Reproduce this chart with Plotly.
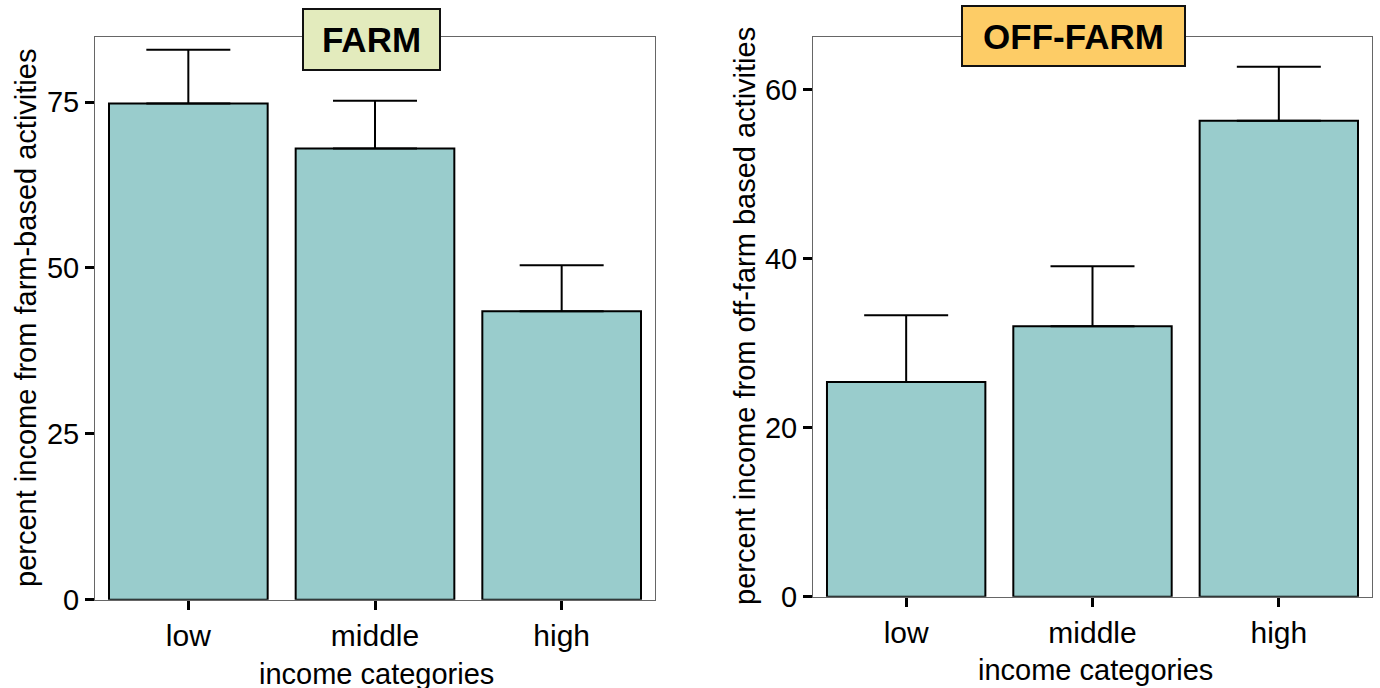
import plotly.graph_objects as go

categories = ["low", "middle", "high"]
farm_values = [74.8, 68.0, 43.5]
farm_errors = [8.1, 7.2, 6.9]
offfarm_values = [25.4, 32.0, 56.3]
offfarm_errors = [7.9, 7.1, 6.4]

FONT = "Liberation Sans, Arial, sans-serif"
BAR_COLOR = "#99cccc"
H = 688.0          # reference pixel frame used for fractions
FIG_H = 706        # rendered figure height

fig = go.Figure()
for vals, errs, xa, ya in [(farm_values, farm_errors, "x", "y"),
                           (offfarm_values, offfarm_errors, "x2", "y2")]:
    fig.add_trace(go.Bar(
        x=categories, y=vals, xaxis=xa, yaxis=ya,
        marker=dict(color=BAR_COLOR, line=dict(color="black", width=2)),
        error_y=dict(type="data", array=errs, symmetric=False, arrayminus=[0, 0, 0],
                     color="black", thickness=2, width=42),
        showlegend=False,
    ))

axis_common = dict(
    showline=True, mirror=True, linecolor="#666666", linewidth=1,
    ticks="outside", ticklen=9, tickwidth=3, tickcolor="black",
    showgrid=False, zeroline=False,
)

fig.update_layout(
    width=1380, height=FIG_H,
    margin=dict(l=0, r=0, t=0, b=0),
    paper_bgcolor="white", plot_bgcolor="white",
    bargap=0.15,
    xaxis=dict(domain=[95/1380, 655/1380], anchor="y", range=[-0.5, 2.5],
               tickfont=dict(family=FONT, size=30, color="black"), **axis_common),
    yaxis=dict(domain=[1-598/H, 1-37/H], anchor="x", range=[0, 84.8],
               tickvals=[0, 25, 50, 75],
               tickfont=dict(family=FONT, size=29, color="black"), **axis_common),
    xaxis2=dict(domain=[813/1380, 1372/1380], anchor="y2", range=[-0.5, 2.5],
                tickfont=dict(family=FONT, size=30, color="black"), **axis_common),
    yaxis2=dict(domain=[1-595/H, 1-37/H], anchor="x2", range=[0, 66.2],
                tickvals=[0, 20, 40, 60],
                tickfont=dict(family=FONT, size=29, color="black"), **axis_common),
)

anns = [
    dict(text="<b>FARM</b>", x=371/1380, y=1-39/H, bgcolor="#e3ebbd", w=135, h=59),
    dict(text="<b>OFF-FARM</b>", x=1073/1380, y=1-35.5/H, bgcolor="#fdcc66", w=221, h=58),
]
for a in anns:
    fig.add_annotation(text=a["text"], x=a["x"], y=a["y"], xref="paper", yref="paper",
                       xanchor="center", yanchor="middle", showarrow=False,
                       font=dict(family=FONT, size=35, color="black"),
                       bgcolor=a["bgcolor"], bordercolor="#111111", borderwidth=2,
                       borderpad=0, width=a["w"], height=a["h"])

title_font = dict(family=FONT, size=29, color="black")
fig.add_annotation(text="percent income from farm-based activities", x=26/1380, y=1-317/H,
                   xref="paper", yref="paper", textangle=-90, showarrow=False,
                   xanchor="center", yanchor="middle", font=title_font)
fig.add_annotation(text="percent income from off-farm based activities", x=745/1380, y=1-315/H,
                   xref="paper", yref="paper", textangle=-90, showarrow=False,
                   xanchor="center", yanchor="middle", font=title_font)
fig.add_annotation(text="income categories", x=376/1380, y=1-672/H,
                   xref="paper", yref="paper", showarrow=False,
                   xanchor="center", yanchor="middle", font=title_font)
fig.add_annotation(text="income categories", x=1095/1380, y=1-668/H,
                   xref="paper", yref="paper", showarrow=False,
                   xanchor="center", yanchor="middle", font=title_font)

post = ("var s=[document.documentElement, document.body];"
        "s.forEach(function(e){e.style.margin='0';e.style.padding='0';"
        "e.style.overflow='hidden';});")

fig.write_html("out.html", config={"displayModeBar": False}, post_script=post)
